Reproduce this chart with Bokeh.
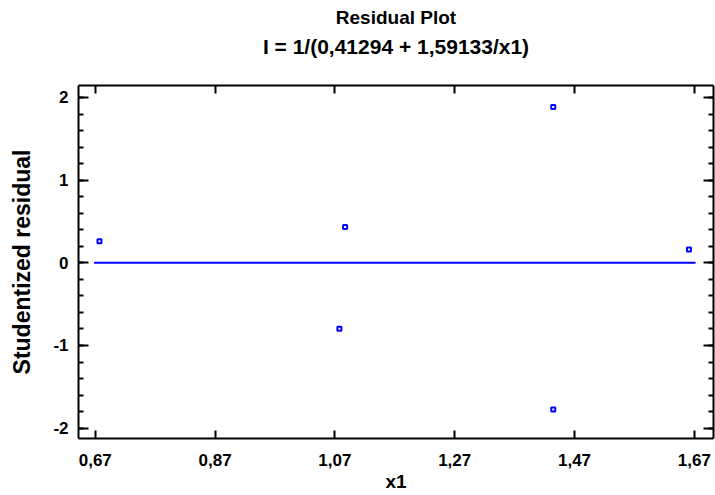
from bokeh.plotting import figure
from bokeh.models import LinearAxis, FixedTicker, CustomJSTickFormatter, Title, Range1d
from bokeh.embed import file_html
from bokeh.resources import INLINE

# ---- data ----
x1 = [0.677, 1.087, 1.0775, 1.4345, 1.4345, 1.661]
resid = [0.262, 0.432, -0.798, 1.886, -1.773, 0.162]
zero_x = [0.668, 1.672]
zero_y = [0, 0]
x_ticks = [0.67, 0.87, 1.07, 1.27, 1.47, 1.67]
y_ticks = [-2, -1, 0, 1, 2]
y_minor = [round(-2.0 + 0.2 * i, 1) for i in range(21)]

title_text = "Residual Plot"
subtitle_text = "I = 1/(0,41294 + 1,59133/x1)"
x_label = "x1"
y_label = "Studentized residual"

FONT = "Liberation Sans"
FW, FH = 635, 353

p = figure(frame_width=FW, frame_height=FH,
           x_range=Range1d(0.642, 1.702), y_range=Range1d(-2.125, 2.145),
           x_axis_type=None, y_axis_type=None,
           output_backend="svg", toolbar_location=None,
           min_border_left=78, min_border_right=2, min_border_top=85, min_border_bottom=57,
           outline_line_color=None, background_fill_color="white", border_fill_color="white")
p.title = None

xfmt = CustomJSTickFormatter(code="return tick.toFixed(2).replace('.', ',');")
yfmt = CustomJSTickFormatter(code="return tick.toFixed(0);")
blank = CustomJSTickFormatter(code="return '';")


def style(ax, major_in, minor_in, show_labels=True):
    ax.axis_line_color = "black"
    ax.axis_line_width = 2
    ax.major_tick_in = major_in
    ax.major_tick_out = 0
    ax.minor_tick_in = minor_in
    ax.minor_tick_out = 0
    ax.major_tick_line_color = "black"
    ax.major_tick_line_width = 2
    ax.minor_tick_line_color = "black"
    ax.minor_tick_line_width = 2
    ax.major_label_text_font = FONT
    ax.major_label_text_font_style = "bold"
    ax.major_label_text_color = "black"
    ax.axis_label_text_font = FONT
    ax.axis_label_text_font_style = "bold"
    ax.axis_label_text_color = "black"
    if show_labels:
        ax.major_label_text_font_size = "17px"
    else:
        ax.major_label_text_font_size = "0px"
        ax.major_label_standoff = 0


xb = LinearAxis(ticker=FixedTicker(ticks=x_ticks, minor_ticks=[]), formatter=xfmt, axis_label=x_label)
style(xb, 8, 0)
xb.axis_label_text_font_size = "19px"
xb.major_label_standoff = 15
xb.axis_label_standoff = 2
p.add_layout(xb, "below")

# top axis: inside ticks only; its axis label carries the subtitle line
xt = LinearAxis(ticker=FixedTicker(ticks=x_ticks, minor_ticks=[]), formatter=blank,
                axis_label=subtitle_text)
style(xt, 8, 0, show_labels=False)
xt.axis_label_text_font_size = "21px"
xt.axis_label_standoff = 28
p.add_layout(xt, "above")

yl = LinearAxis(ticker=FixedTicker(ticks=y_ticks, minor_ticks=y_minor), formatter=yfmt, axis_label=y_label)
style(yl, 10, 5)
yl.axis_label_text_font_size = "23px"
yl.major_label_standoff = 10
yl.axis_label_standoff = 15
p.add_layout(yl, "left")

yr = LinearAxis(ticker=FixedTicker(ticks=y_ticks, minor_ticks=y_minor), formatter=blank)
style(yr, 10, 5, show_labels=False)
p.add_layout(yr, "right")

p.line(zero_x, zero_y, line_color="#0000ff", line_width=2)
p.scatter(x1, resid, marker="square", size=4, fill_color="white",
          line_color="#0000ff", line_width=2)

p.add_layout(Title(text=title_text, align="center", text_font=FONT, text_font_style="bold",
                   text_font_size="19px", text_color="black", standoff=8), "above")

open("out.html", "w").write(file_html(p, INLINE))
